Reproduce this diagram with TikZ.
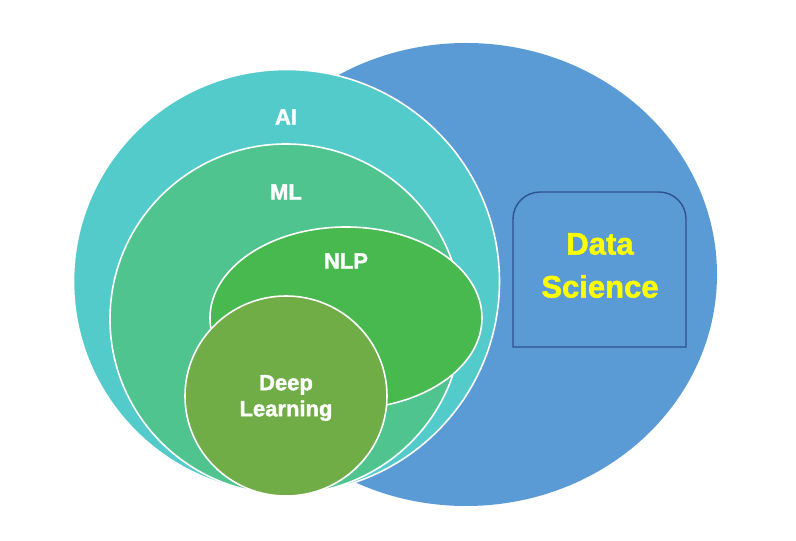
\documentclass[tikz,border=0pt]{standalone}
\usepackage{fontspec}
\setsansfont[BoldFeatures={FakeBold=1.6}]{Liberation Sans}
\definecolor{dsblue}{RGB}{91,155,213}
\definecolor{dsedge}{RGB}{47,82,143}
\definecolor{aiteal}{RGB}{84,203,203}
\definecolor{mlgreen}{RGB}{79,196,143}
\definecolor{nlpgreen}{RGB}{72,185,78}
\definecolor{dlgreen}{RGB}{112,173,71}
\definecolor{dsyellow}{RGB}{255,255,0}
\begin{document}
\begin{tikzpicture}[x=1pt, y=1pt, font=\sffamily\bfseries,
    ring/.style={draw=white, line width=1.6pt},
    lbl/.style={text=white, font=\fontsize{22}{26}\selectfont\sffamily\bfseries, align=center}]

        \useasboundingbox (0, 0) rectangle (796, 541);

        % 1. Ellisse grande (Data Science)
        \fill[dsblue] (466, 266.5) ellipse (251 and 231.5);

        % 2. Riquadro con angoli superiori arrotondati
        \draw[fill=dsblue, draw=dsedge, line width=1.4pt]
            (513, 194) [rounded corners=27] -- (513, 349) -- (686, 349) [sharp corners] -- (686, 194) -- cycle;
        \node[text=dsyellow, align=center, font=\fontsize{31}{43}\selectfont\sffamily\bfseries]
            (ds) at (600, 275.5) {Data\\Science};

        % 3. Cerchi annidati
        \draw[ring, fill=aiteal] (286.5, 259.5) ellipse (213 and 212);
        \draw[ring, fill=mlgreen] (286, 222) ellipse (176 and 175);
        \draw[ring, fill=nlpgreen] (346, 223) ellipse (136 and 91);
        \draw[ring, fill=dlgreen] (286, 145) ellipse (101 and 100);

        % 4. Etichette
        \node[lbl] (ai) at (286, 424) {AI};
        \node[lbl] (ml) at (286, 349) {ML};
        \node[lbl] (nlp) at (346, 280) {NLP};
        \node[lbl] (dl) at (286, 143) {Deep\\Learning};

    \end{tikzpicture}
\end{document}
